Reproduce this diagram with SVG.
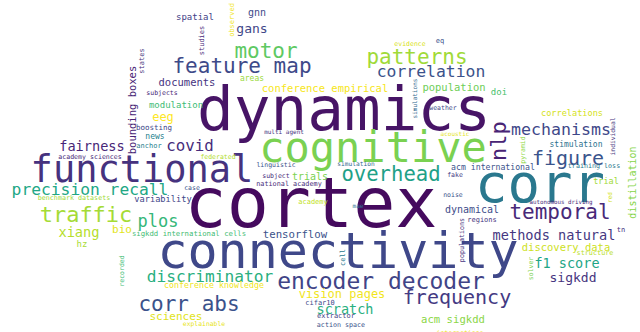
<svg xmlns="http://www.w3.org/2000/svg" width="640" height="332" viewBox="0 0 640 332">
<style>
text{font-family:"DejaVu Sans Mono","Liberation Mono",monospace;text-anchor:middle}
</style>
<rect width="640" height="332" fill="#ffffff"/>
<g id="words">
<text x="311" y="227" font-size="70" fill="#450a5e">cortex</text>
<text x="344" y="130" font-size="61" fill="#471466">dynamics</text>
<text x="142" y="182" font-size="37" fill="#46327e">functional</text>
<text x="373" y="162" font-size="42" fill="#7ad151">cognitive</text>
<text x="540" y="202" font-size="54" fill="#2a788e">corr</text>
<text x="338" y="268" font-size="50" fill="#3f4889">connectivity</text>
<text x="381" y="289" font-size="23" fill="#414487">encoder decoder</text>
<text x="457" y="304" font-size="20" fill="#443a83">frequency</text>
<text x="560" y="219" font-size="21" fill="#482979">temporal</text>
<text x="86" y="222" font-size="22" fill="#a5db36">traffic</text>
<text x="90" y="195" font-size="16.3" fill="#22a785">precision recall</text>
<text x="391" y="181" font-size="20.6" fill="#1fa188">overhead</text>
<text x="242" y="73" font-size="21" fill="#3e4a89">feature map</text>
<text x="266" y="58" font-size="21" fill="#5ec962">motor</text>
<text x="417" y="64" font-size="21" fill="#a0da39">patterns</text>
<text x="431" y="77" font-size="16.4" fill="#3b528b">correlation</text>
<text x="561" y="135" font-size="16.6" fill="#3f4889">mechanisms</text>
<text x="568" y="165" font-size="20" fill="#3a548c">figure</text>
<text x="189" y="311" font-size="21" fill="#3b528b">corr abs</text>
<text x="210" y="282" font-size="16.2" fill="#29af7f">discriminator</text>
<text x="190" y="151" font-size="15.8" fill="#472c7b">covid</text>
<text x="92" y="151" font-size="13.6" fill="#482677">fairness</text>
<text x="158" y="227" font-size="17" fill="#35b779">plos</text>
<text x="554" y="240" font-size="13.6" fill="#453781">methods natural</text>
<text x="567" y="268" font-size="13.5" fill="#21a585">f1 score</text>
<text x="573" y="282" font-size="13" fill="#463480">sigkdd</text>
<text x="345" y="314" font-size="13.5" fill="#2ab07f">scratch</text>
<text x="79" y="237" font-size="13.7" fill="#b5de2b">xiang</text>
<text x="252" y="33" font-size="13" fill="#3f4788">gans</text>
<text x="342" y="298" font-size="12" fill="#f1e51d">vision pages</text>
<text x="163" y="121" font-size="12" fill="#fde725">eeg</text>
<text x="187" y="86" font-size="10.5" fill="#46337f">documents</text>
<text x="325" y="92" font-size="10.5" fill="#f6e620">conference empirical</text>
<text x="454" y="91" font-size="10.5" fill="#6ece58">population</text>
<text x="295" y="238" font-size="10.7" fill="#3b528b">tensorflow</text>
<text x="566" y="251" font-size="10.5" fill="#cde11d">discovery data</text>
<text x="453" y="323" font-size="10.6" fill="#8bd646">acm sigkdd</text>
<text x="176" y="320" font-size="11" fill="#dfe318">sciences</text>
<text x="122" y="233" font-size="11" fill="#e2e418">bio</text>
<text x="257" y="16" font-size="10" fill="#3e4a89">gnn</text>
<text x="310" y="180" font-size="10" fill="#7cd250">trials</text>
<text x="472" y="213" font-size="10" fill="#3e4c8a">dynamical</text>
<text x="195" y="20" font-size="9" fill="#424086">spatial</text>
<text x="176" y="108" font-size="9" fill="#3dbc74">modulation</text>
<text x="499" y="95" font-size="9" fill="#4ac16d">doi</text>
<text x="82" y="247" font-size="9" fill="#a8db34">hz</text>
<text x="163" y="202" font-size="8.7" fill="#404688">variability</text>
<text x="572" y="116" font-size="8.6" fill="#d5e21a">correlations</text>
<text x="606" y="184" font-size="8.5" fill="#a2da37">trial</text>
<text x="493" y="170" font-size="8.2" fill="#3b528b">acm international</text>
<text x="214" y="288" font-size="8.3" fill="#efe51c">conference knowledge</text>
<text x="189" y="236" font-size="7.3" fill="#3fbc73">sigkdd international cells</text>
<text x="576" y="147" font-size="8" fill="#2c728e">stimulation</text>
<text x="252" y="81" font-size="8" fill="#9bd93c">areas</text>
<text x="154" y="130" font-size="7.5" fill="#404688">boosting</text>
<text x="155" y="139" font-size="8" fill="#26818e">news</text>
<text x="149" y="148" font-size="7" fill="#277f8e">anchor</text>
<text x="90" y="159" font-size="6.6" fill="#482878">academy sciences</text>
<text x="74" y="200" font-size="6.7" fill="#9fda3a">benchmark datasets</text>
<text x="410" y="46" font-size="6.5" fill="#d8e219">evidence</text>
<text x="440" y="43" font-size="7" fill="#3b528b">eq</text>
<text x="443" y="110" font-size="6.5" fill="#3e4989">weather</text>
<text x="284" y="134" font-size="6" fill="#46337e">multi agent</text>
<text x="218" y="159" font-size="6.5" fill="#b2dd2d">federated</text>
<text x="276" y="167" font-size="6.5" fill="#3b528b">linguistic</text>
<text x="276" y="178" font-size="6.5" fill="#482878">subject</text>
<text x="289" y="186" font-size="6.8" fill="#472c7a">national academy</text>
<text x="192" y="190" font-size="6.5" fill="#3b528b">case</text>
<text x="313" y="204" font-size="7" fill="#c2df23">academy</text>
<text x="162" y="95" font-size="6.5" fill="#482475">subjects</text>
<text x="455" y="136" font-size="6" fill="#e5e419">acoustic</text>
<text x="356" y="166" font-size="6.2" fill="#31688e">simulation</text>
<text x="455" y="177" font-size="6.5" fill="#443983">fake</text>
<text x="453" y="197" font-size="6.5" fill="#3b528b">noise</text>
<text x="358" y="208" font-size="6" fill="#2c728e">mae</text>
<text x="594" y="168" font-size="6.7" fill="#2a788e">training loss</text>
<text x="561" y="204" font-size="5.8" fill="#482878">autonomous driving</text>
<text x="482" y="222" font-size="7" fill="#46337e">regions</text>
<text x="621" y="232" font-size="7" fill="#46327e">tn</text>
<text x="595" y="255" font-size="6.8" fill="#b8de29">structure</text>
<text x="320" y="305" font-size="7" fill="#3e4a89">cifar10</text>
<text x="336" y="318" font-size="7" fill="#433e85">extractor</text>
<text x="341" y="327" font-size="6.7" fill="#3b528b">action space</text>
<text x="204" y="326" font-size="6.4" fill="#e7e419">explainable</text>
<text x="460" y="335" font-size="6.5" fill="#f1e51d">interactions</text>
<text transform="translate(136,110) rotate(-90)" font-size="10.5" fill="#482576">bounding boxes</text>
<text transform="translate(144,61) rotate(-90)" font-size="7" fill="#46337e">states</text>
<text transform="translate(234,20) rotate(-90)" font-size="7" fill="#f0e51c">observed</text>
<text transform="translate(204,40.5) rotate(-90)" font-size="7" fill="#482878">studies</text>
<text transform="translate(417,98.5) rotate(-90)" font-size="6" fill="#31688e">simulations</text>
<text transform="translate(506,141) rotate(-90)" font-size="22" fill="#482475">nlp</text>
<text transform="translate(525,150) rotate(-90)" font-size="6.5" fill="#8fd744">pyramid</text>
<text transform="translate(615,136.5) rotate(-90)" font-size="6.3" fill="#46337e">individual</text>
<text transform="translate(636,182.5) rotate(-90)" font-size="10" fill="#86d549">distillation</text>
<text transform="translate(612,197.5) rotate(-90)" font-size="6" fill="#d2e21b">red</text>
<text transform="translate(124,271) rotate(-90)" font-size="6.5" fill="#3dbc74">recorded</text>
<text transform="translate(464,240) rotate(-90)" font-size="6.7" fill="#46337e">populations</text>
<text transform="translate(345,257.5) rotate(-90)" font-size="7" fill="#2a788e">cell</text>
<text transform="translate(533,268.5) rotate(-90)" font-size="6.5" fill="#7ad151">solver</text>
</g>
</svg>
